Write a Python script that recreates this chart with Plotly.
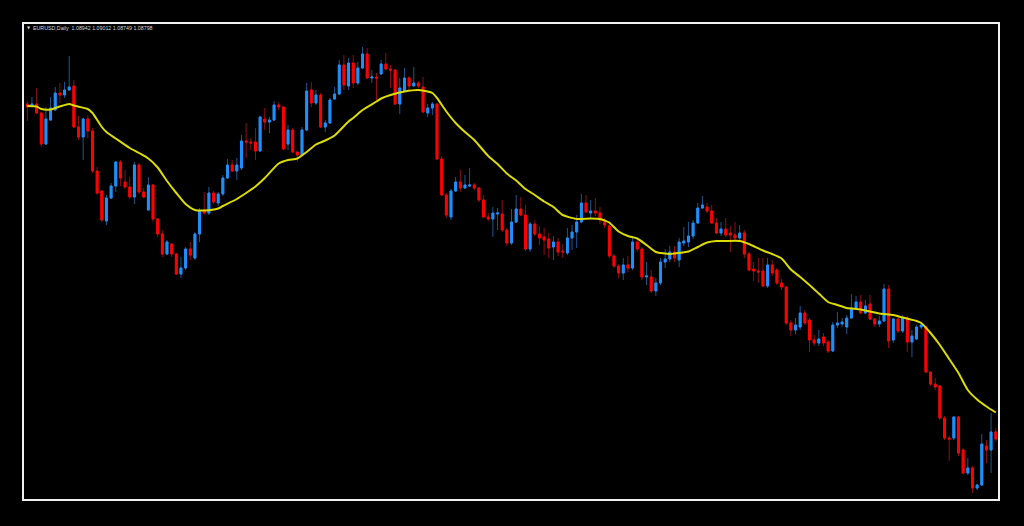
import plotly.graph_objects as go

# ---- data (prices in pips, i.e. price * 10000) ----
day = list(range(209))

open_pips = [
    11550, 11546, 11550, 11532, 11470, 11518, 11538, 11572, 11568, 11578,
    11586, 11504, 11484, 11520, 11496, 11416, 11376, 11316, 11362, 11386,
    11434, 11394, 11384, 11364, 11428, 11374, 11338, 11388, 11320, 11290,
    11250, 11270, 11250, 11210, 11222, 11260, 11242, 11290, 11338, 11332,
    11372, 11352, 11370, 11402, 11428, 11416, 11422, 11476, 11474, 11474,
    11456, 11520, 11514, 11518, 11548, 11544, 11470, 11498, 11454, 11448,
    11498, 11578, 11552, 11568, 11504, 11512, 11560, 11570, 11628, 11586,
    11632, 11592, 11622, 11650, 11602, 11604, 11610, 11630, 11620, 11618,
    11550, 11576, 11602, 11586, 11592, 11584, 11532, 11542, 11550, 11440,
    11368, 11324, 11376, 11394, 11382, 11386, 11388, 11382, 11358, 11324,
    11320, 11330, 11330, 11298, 11272, 11314, 11340, 11328, 11260, 11310,
    11290, 11284, 11280, 11264, 11274, 11256, 11252, 11282, 11294, 11314,
    11352, 11332, 11336, 11332, 11314, 11306, 11246, 11226, 11212, 11228,
    11222, 11274, 11260, 11204, 11204, 11176, 11192, 11234, 11240, 11254,
    11238, 11272, 11274, 11286, 11312, 11342, 11344, 11336, 11312, 11292,
    11300, 11292, 11288, 11282, 11292, 11250, 11220, 11216, 11216, 11186,
    11228, 11218, 11192, 11184, 11112, 11098, 11104, 11132, 11118, 11078,
    11072, 11084, 11074, 11056, 11108, 11110, 11104, 11122, 11142, 11154,
    11132, 11150, 11120, 11110, 11116, 11180, 11078, 11120, 11096, 11122,
    11074, 11080, 11104, 11104, 11014, 10990, 10986, 10922, 10882, 10882,
    10924, 10858, 10812, 10822, 10782, 10788, 10866, 10858, 10894.2,
]
high_pips = [
    11556, 11564, 11582, 11534, 11544, 11564, 11584, 11592, 11594, 11646,
    11598, 11526, 11522, 11528, 11502, 11424, 11378, 11368, 11392, 11436,
    11438, 11418, 11404, 11434, 11432, 11382, 11404, 11390, 11322, 11298,
    11278, 11272, 11252, 11244, 11264, 11274, 11294, 11342, 11374, 11384,
    11376, 11374, 11408, 11440, 11438, 11442, 11488, 11512, 11482, 11502,
    11526, 11542, 11524, 11556, 11554, 11546, 11508, 11502, 11456, 11504,
    11592, 11594, 11578, 11572, 11518, 11562, 11584, 11638, 11648, 11642,
    11648, 11634, 11664, 11662, 11618, 11612, 11638, 11652, 11628, 11620,
    11602, 11622, 11606, 11624, 11596, 11604, 11550, 11554, 11552, 11446,
    11372, 11380, 11404, 11418, 11408, 11422, 11392, 11384, 11368, 11332,
    11344, 11342, 11358, 11302, 11340, 11368, 11364, 11348, 11314, 11318,
    11306, 11302, 11292, 11286, 11282, 11270, 11302, 11308, 11328, 11370,
    11368, 11358, 11362, 11344, 11322, 11314, 11250, 11230, 11242, 11246,
    11282, 11282, 11264, 11234, 11218, 11202, 11242, 11260, 11266, 11266,
    11282, 11304, 11314, 11318, 11352, 11366, 11352, 11348, 11322, 11314,
    11322, 11306, 11314, 11308, 11298, 11254, 11234, 11242, 11242, 11242,
    11238, 11222, 11200, 11186, 11118, 11122, 11146, 11138, 11122, 11088,
    11098, 11092, 11078, 11114, 11134, 11122, 11128, 11170, 11166, 11168,
    11158, 11168, 11122, 11126, 11190, 11188, 11122, 11124, 11128, 11126,
    11098, 11108, 11114, 11106, 11014, 11002, 10988, 10926, 10886, 10926,
    10926, 10862, 10842, 10826, 10790, 10890, 10878, 10932, 10901.2,
]
low_pips = [
    11516, 11544, 11530, 11464, 11468, 11516, 11536, 11552, 11562, 11578,
    11502, 11478, 11438, 11482, 11412, 11368, 11314, 11308, 11360, 11374,
    11386, 11380, 11360, 11350, 11370, 11362, 11336, 11314, 11284, 11244,
    11248, 11244, 11208, 11202, 11218, 11238, 11238, 11274, 11330, 11328,
    11350, 11346, 11366, 11400, 11414, 11398, 11418, 11442, 11458, 11438,
    11454, 11498, 11492, 11516, 11538, 11458, 11458, 11452, 11434, 11446,
    11496, 11544, 11548, 11502, 11494, 11510, 11558, 11568, 11578, 11578,
    11582, 11588, 11620, 11600, 11592, 11558, 11608, 11618, 11582, 11548,
    11530, 11574, 11578, 11586, 11582, 11532, 11524, 11528, 11438, 11366,
    11322, 11318, 11374, 11374, 11380, 11384, 11378, 11354, 11322, 11316,
    11284, 11298, 11294, 11266, 11268, 11312, 11326, 11256, 11254, 11286,
    11268, 11248, 11242, 11238, 11246, 11242, 11248, 11258, 11262, 11312,
    11332, 11322, 11326, 11310, 11302, 11242, 11222, 11202, 11198, 11214,
    11218, 11254, 11198, 11188, 11172, 11166, 11188, 11222, 11234, 11234,
    11224, 11266, 11264, 11280, 11310, 11340, 11332, 11310, 11290, 11286,
    11284, 11254, 11274, 11278, 11242, 11216, 11196, 11192, 11184, 11182,
    11206, 11188, 11178, 11108, 11086, 11090, 11098, 11108, 11054, 11066,
    11066, 11066, 11052, 11054, 11102, 11104, 11090, 11120, 11140, 11130,
    11130, 11118, 11104, 11104, 11114, 11062, 11072, 11092, 11092, 11054,
    11044, 11078, 11100, 11012, 10986, 10978, 10918, 10878, 10836, 10878,
    10846, 10810, 10808, 10772, 10778, 10786, 10832, 10812, 10874.9,
]
close_pips = [
    11544, 11550, 11532, 11470, 11520, 11542, 11572, 11568, 11578, 11584,
    11504, 11484, 11520, 11496, 11416, 11372, 11318, 11362, 11386, 11434,
    11402, 11384, 11364, 11428, 11374, 11364, 11388, 11320, 11290, 11250,
    11274, 11250, 11210, 11222, 11260, 11248, 11290, 11336, 11332, 11372,
    11354, 11370, 11402, 11428, 11416, 11428, 11476, 11474, 11472, 11456,
    11524, 11514, 11518, 11548, 11544, 11460, 11498, 11454, 11448, 11498,
    11576, 11552, 11568, 11504, 11512, 11558, 11570, 11628, 11588, 11632,
    11592, 11622, 11650, 11602, 11604, 11602, 11630, 11620, 11618, 11550,
    11582, 11602, 11586, 11592, 11586, 11534, 11542, 11550, 11440, 11368,
    11328, 11376, 11394, 11382, 11388, 11388, 11382, 11358, 11324, 11320,
    11332, 11332, 11298, 11272, 11314, 11340, 11328, 11260, 11310, 11290,
    11282, 11278, 11262, 11274, 11254, 11254, 11282, 11294, 11314, 11352,
    11334, 11336, 11332, 11318, 11308, 11246, 11226, 11212, 11228, 11222,
    11274, 11260, 11204, 11206, 11176, 11192, 11234, 11240, 11254, 11242,
    11274, 11276, 11286, 11312, 11342, 11348, 11336, 11312, 11292, 11300,
    11288, 11288, 11282, 11292, 11250, 11218, 11216, 11214, 11186, 11228,
    11212, 11192, 11184, 11112, 11098, 11108, 11132, 11112, 11078, 11072,
    11080, 11072, 11056, 11108, 11112, 11114, 11122, 11142, 11154, 11132,
    11146, 11120, 11110, 11116, 11180, 11076, 11120, 11096, 11122, 11074,
    11086, 11104, 11108, 11014, 10990, 10984, 10922, 10882, 10880, 10924,
    10852, 10812, 10822, 10782, 10788, 10870, 10858, 10894, 10879.8,
]

# moving average at these bars
ma_day = [0, 2, 3, 5, 7, 9, 10, 13, 14, 16,
          17, 19, 22, 24, 26, 28, 30, 32, 34, 36,
          38, 41, 42, 45, 47, 49, 51, 54, 56, 58,
          60, 62, 64, 66, 67, 69, 70, 72, 75, 76,
          78, 81, 84, 86, 87, 88, 90, 92, 94, 96,
          99, 101, 103, 105, 107, 109, 111, 113, 115, 118,
          121, 123, 124, 125, 127, 129, 131, 133, 135, 138,
          139, 142, 144, 146, 148, 150, 153, 155, 158, 160,
          162, 164, 166, 168, 170, 172, 174, 176, 179, 183,
          186, 188, 191, 192, 194, 196, 198, 200, 202, 204,
          206, 208]
ma_pips = [11546, 11545, 11540, 11539, 11545, 11550, 11547, 11540, 11532, 11504,
           11494, 11481, 11462, 11452, 11441, 11423, 11396, 11372, 11350, 11338,
           11337, 11341, 11346, 11360, 11372, 11385, 11402, 11431, 11438, 11441,
           11454, 11469, 11477, 11487, 11496, 11515, 11522, 11538, 11555, 11561,
           11568, 11575, 11578, 11575, 11572, 11562, 11535, 11512, 11494, 11478,
           11446, 11430, 11411, 11397, 11380, 11368, 11355, 11344, 11328, 11320,
           11321, 11320, 11317, 11313, 11295, 11286, 11281, 11268, 11254, 11250,
           11251, 11255, 11264, 11273, 11276, 11276, 11276, 11270, 11257, 11250,
           11241, 11219, 11204, 11188, 11171, 11154, 11148, 11142, 11139, 11131,
           11128, 11123, 11116, 11112, 11092, 11068, 11040, 11012, 10978, 10959,
           10945, 10933]

title_text = "EURUSD,Daily  1.08942 1.09012 1.08749 1.08798"

assert len(open_pips) == len(high_pips) == len(low_pips) == len(close_pips) == len(day)
assert len(ma_day) == len(ma_pips)

PIP = 1e-4
o = [v * PIP for v in open_pips]
h = [v * PIP for v in high_pips]
l = [v * PIP for v in low_pips]
c = [v * PIP for v in close_pips]
ma = [v * PIP for v in ma_pips]
body_hi = [max(a, b) for a, b in zip(o, c)]
body_lo = [min(a, b) for a, b in zip(o, c)]

BLUE = "#1E90FF"
RED = "#FF0000"

fig = go.Figure()
# wicks (dim)
fig.add_trace(go.Candlestick(
    x=day, open=o, high=h, low=l, close=c,
    increasing=dict(line=dict(color="#1d5590", width=1), fillcolor="#1d5590"),
    decreasing=dict(line=dict(color="#8c1010", width=1), fillcolor="#8c1010"),
    whiskerwidth=0, showlegend=False, hoverinfo="skip",
))
# bodies (bright)
fig.add_trace(go.Candlestick(
    x=day, open=o, high=body_hi, low=body_lo, close=c,
    increasing=dict(line=dict(color=BLUE, width=1), fillcolor=BLUE),
    decreasing=dict(line=dict(color=RED, width=1), fillcolor=RED),
    whiskerwidth=0, showlegend=False, hoverinfo="skip",
))
fig.add_trace(go.Scatter(
    x=ma_day, y=ma, mode="lines",
    line=dict(color="#DCDC00", width=2, shape="spline", smoothing=0.6),
    showlegend=False, hoverinfo="skip",
))

fig.update_layout(
    width=1024, height=526,
    margin=dict(l=23, r=25, t=23, b=26),
    paper_bgcolor="black", plot_bgcolor="black",
    boxgap=0.42,
    xaxis=dict(range=[-0.924, 208.70], showgrid=False, zeroline=False,
               showticklabels=False, ticks="", rangeslider=dict(visible=False),
               fixedrange=True),
    yaxis=dict(range=[1.0758, 1.1712], showgrid=False, zeroline=False,
               showticklabels=False, ticks="", fixedrange=True),
    shapes=[dict(type="rect", xref="paper", yref="paper", x0=0, x1=1, y0=0, y1=1,
                 line=dict(color="#f0f0f0", width=2), fillcolor="rgba(0,0,0,0)")],
    annotations=[
        dict(text=title_text, xref="paper", yref="paper", x=0.0082, y=0.9895,
             xanchor="left", yanchor="middle", showarrow=False,
             font=dict(family="Liberation Sans", size=5.3, color="#d8d8d8")),
        dict(text="▼", xref="paper", yref="paper", x=0.0025, y=0.9905,
             xanchor="left", yanchor="middle", showarrow=False,
             font=dict(family="DejaVu Sans", size=4, color="#d8d8d8")),
    ],
)

fig.write_html(
    "out.html",
    config={"displayModeBar": False},
    post_script="document.body.style.margin='0';document.body.style.padding='0';"
                "document.body.style.background='black';"
                "document.documentElement.style.background='black';",
)
